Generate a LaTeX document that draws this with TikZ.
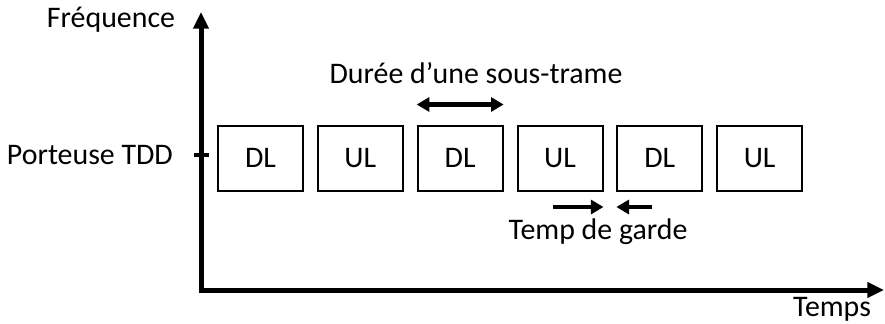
\documentclass[tikz,border=0pt]{standalone}
\usepackage{fontspec}
\setmainfont{Carlito}
\usetikzlibrary{arrows.meta,positioning}

\tikzset{
  slot/.style={draw,line width=0.6mm,minimum width=25.5mm,minimum height=19.5mm,inner sep=0pt,
    text height=5.7mm,text depth=0pt},
  axis/.style={line width=1.5mm,-{Triangle[length=5mm,width=4.5mm]}},
  bar/.style={line width=1.4mm,>={Triangle[length=3.8mm,width=4.2mm]}},
  lbl/.style={font=\fontsize{25.5}{30}\selectfont}
}

\begin{document}
\begin{tikzpicture}[x=0.3mm,y=-0.3mm]
    \useasboundingbox (0,0) rectangle (885,323);
%    \draw[orange,thin] (0,0) grid[step=50] (885,323);

    % axes
    \coordinate (o) at (201,290);
    \coordinate (ytop) at (201,12);
    \coordinate (xend) at (884,290);
    \draw[axis] (o) -- (ytop);
    \draw[axis] ([xshift=-0.75mm]o) -- (xend);
    \node[lbl] (freq) at (111,20) {Fréquence};
    \node[lbl] (temps) at (832,309) {Temps};

    % carrier
    \coordinate (t1) at (194,155);
    \coordinate (t2) at (209,155);
    \draw[line width=1.2mm] (t1) -- (t2);
    \node[lbl,anchor=east] (port) at (177,155) {Porteuse TDD};

    % sub-frames
    \node[slot,lbl] (dl1) at (260.5,158) {DL};
    \node[slot,lbl,right=3.85mm of dl1] (ul1) {UL};
    \node[slot,lbl,right=3.85mm of ul1] (dl2) {DL};
    \node[slot,lbl,right=3.85mm of dl2] (ul2) {UL};
    \node[slot,lbl,right=3.85mm of ul2] (dl3) {DL};
    \node[slot,lbl,right=3.85mm of dl3] (ul3) {UL};

    % sub-frame duration
    \draw[bar,<->] ([yshift=6mm]dl2.north west) -- ([yshift=6mm]dl2.north east);
    \node[lbl] (duree) at (476,73) {Durée d’une sous-trame};

    % guard time
    \coordinate (g1) at (553,207);
    \coordinate (g2) at (652,207);
    \draw[bar,->] (g1) -- (g1 -| ul2.east);
    \draw[bar,->] (g2) -- (g2 -| dl3.west);
    \node[lbl] (garde) at (598,232) {Temp de garde};

  \end{tikzpicture}
\end{document}
